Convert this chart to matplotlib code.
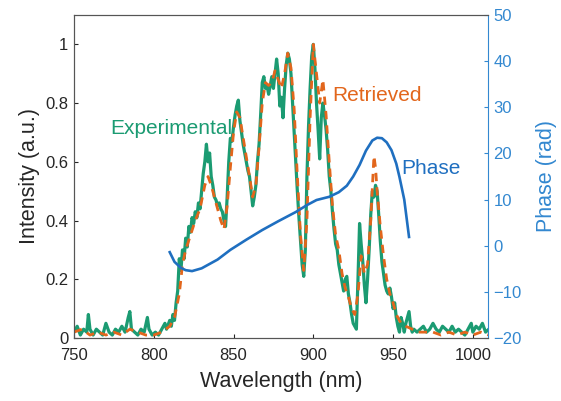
import matplotlib
matplotlib.use("Agg")
import matplotlib.pyplot as plt

plt.rcParams['font.family'] = ['Liberation Sans', 'DejaVu Sans']

# measured spectrum
exp_wl = [750, 752, 754, 756, 758, 759, 760, 762, 764, 766, 768, 770, 772, 774, 776, 778, 780,
          782, 784, 785, 786, 788, 790, 792, 794, 796, 797, 799, 801, 803, 805, 807, 808, 810,
          811, 812, 813, 814, 815, 816, 817, 818, 819, 820, 821, 822, 823, 824, 825, 826, 827,
          828, 829, 830, 831, 832, 833, 834, 835, 836, 837, 838, 839, 840, 841, 842, 843, 844,
          845, 846, 847, 848, 849, 850, 851, 852, 853, 854, 855, 856, 857, 858, 859, 860, 861,
          862, 863, 864, 865, 866, 867, 868, 869, 870, 871, 872, 873, 874, 875, 876, 877, 878,
          879, 880, 881, 882, 883, 884, 885, 886, 887, 888, 889, 890, 891, 892, 893, 894, 895,
          896, 897, 898, 899, 900, 901, 902, 903, 904, 905, 906, 907, 908, 909, 910, 911, 912,
          913, 914, 915, 916, 917, 918, 919, 920, 921, 922, 923, 924, 925, 926, 927, 928, 929,
          930, 931, 932, 933, 934, 935, 936, 937, 938, 939, 940, 941, 942, 943, 944, 945, 946,
          947, 948, 949, 950, 951, 952, 953, 954, 955, 956, 957, 958, 959, 960, 961, 962, 963,
          965, 967, 969, 971, 973, 975, 977, 979, 981, 983, 985, 987, 989, 991, 993, 995, 997,
          999, 1000, 1002, 1004, 1006, 1008, 1010]
exp_int = [0.02, 0.04, 0.01, 0.03, 0.02, 0.08, 0.03, 0.01, 0.03, 0.02, 0.01, 0.05, 0.02, 0.01,
           0.03, 0.02, 0.04, 0.02, 0.07, 0.09, 0.03, 0.02, 0.01, 0.03, 0.02, 0.07, 0.03, 0.01,
           0.02, 0.01, 0.03, 0.05, 0.03, 0.06, 0.04, 0.08, 0.06, 0.12, 0.16, 0.27, 0.23, 0.30,
           0.27, 0.34, 0.31, 0.38, 0.36, 0.41, 0.39, 0.43, 0.41, 0.46, 0.44, 0.50, 0.56, 0.60,
           0.66, 0.60, 0.63, 0.55, 0.52, 0.48, 0.47, 0.45, 0.46, 0.44, 0.43, 0.40, 0.38, 0.48,
           0.60, 0.68, 0.67, 0.72, 0.76, 0.79, 0.81, 0.74, 0.70, 0.66, 0.63, 0.60, 0.57, 0.55,
           0.50, 0.45, 0.48, 0.52, 0.60, 0.66, 0.76, 0.87, 0.89, 0.85, 0.86, 0.83, 0.86, 0.89,
           0.85, 0.90, 0.95, 0.90, 0.79, 0.82, 0.75, 0.85, 0.93, 0.97, 0.95, 0.90, 0.80, 0.70,
           0.60, 0.50, 0.41, 0.33, 0.25, 0.21, 0.30, 0.55, 0.72, 0.85, 0.96, 1.00, 0.92, 0.80,
           0.71, 0.61, 0.75, 0.80, 0.76, 0.71, 0.64, 0.55, 0.50, 0.43, 0.37, 0.32, 0.30, 0.25,
           0.22, 0.19, 0.16, 0.20, 0.21, 0.15, 0.12, 0.08, 0.05, 0.04, 0.03, 0.20, 0.39, 0.32,
           0.26, 0.18, 0.12, 0.20, 0.30, 0.42, 0.50, 0.48, 0.52, 0.50, 0.42, 0.33, 0.26, 0.22,
           0.18, 0.16, 0.15, 0.17, 0.14, 0.10, 0.12, 0.07, 0.04, 0.02, 0.07, 0.05, 0.02, 0.05,
           0.07, 0.09, 0.04, 0.02, 0.03, 0.02, 0.03, 0.04, 0.02, 0.03, 0.05, 0.03, 0.02, 0.04,
           0.03, 0.02, 0.04, 0.02, 0.03, 0.02, 0.01, 0.03, 0.05, 0.02, 0.04, 0.03, 0.05, 0.02,
           0.03]

# retrieved spectrum
ret_wl = [750, 755, 760, 765, 770, 775, 780, 785, 790, 795, 800, 805, 810, 813, 816, 818, 820,
          823, 826, 829, 832, 834, 836, 839, 842, 844, 846, 848, 850, 852, 854, 857, 860, 862,
          864, 866, 868, 870, 872, 874, 876, 878, 880, 882, 884, 886, 888, 890, 892, 894, 896,
          898, 900, 902, 904, 905, 906, 908, 910, 912, 914, 916, 918, 920, 922, 924, 926, 928,
          930, 932, 934, 936, 938, 939, 940, 942, 944, 946, 948, 950, 952, 955, 958, 962, 966,
          970, 975, 980, 985, 990, 995, 1000, 1005, 1010]
ret_int = [0.02, 0.03, 0.01, 0.02, 0.01, 0.02, 0.01, 0.03, 0.02, 0.01, 0.01, 0.02, 0.04, 0.07,
           0.15, 0.25, 0.30, 0.35, 0.40, 0.44, 0.52, 0.55, 0.52, 0.46, 0.40, 0.37, 0.45, 0.58,
           0.70, 0.77, 0.75, 0.65, 0.55, 0.48, 0.52, 0.65, 0.80, 0.87, 0.86, 0.87, 0.91, 0.88,
           0.85, 0.90, 0.97, 0.92, 0.78, 0.55, 0.35, 0.23, 0.40, 0.75, 1.00, 0.90, 0.80, 0.84,
           0.88, 0.76, 0.60, 0.45, 0.35, 0.30, 0.22, 0.17, 0.14, 0.10, 0.08, 0.15, 0.28, 0.22,
           0.25, 0.40, 0.62, 0.58, 0.50, 0.38, 0.28, 0.20, 0.15, 0.12, 0.08, 0.05, 0.04, 0.03,
           0.02, 0.02, 0.02, 0.01, 0.02, 0.01, 0.02, 0.01, 0.02, 0.01]

# spectral phase
ph_wl = [810, 813, 817, 820, 824, 830, 840, 848, 858, 868, 878, 889, 896, 902, 910, 916, 921,
         925, 929, 933, 937, 940, 943, 946, 949, 952, 954, 957, 960]
ph_rad = [-1.4, -3.5, -4.8, -5.3, -5.5, -4.9, -3.0, -0.9, 1.3, 3.4, 5.3, 7.3, 8.8, 9.9, 10.6,
          11.6, 13.0, 15.0, 17.5, 20.6, 22.8, 23.4, 23.3, 22.4, 20.7, 17.8, 14.9, 10.0, 1.9]

green = '#1b9b72'
orange = '#e2661c'
blue = '#1f6fc0'
axblue = '#3388d0'
dark = '#262626'

fig = plt.figure(figsize=(5.61, 4.01), dpi=100)
ax = fig.add_axes([74/561, 63/401, 414/561, 323/401])
ax2 = ax.twinx()

ax.plot(exp_wl, exp_int, color=green, lw=2.3, zorder=2)
ax.plot(ret_wl, ret_int, color=orange, lw=2.0, ls=(0, (3, 2.2)), zorder=3)
ax2.plot(ph_wl, ph_rad, color=blue, lw=1.9)

ax.set_xlim(750, 1009.5)
ax.set_ylim(0, 1.1)
ax2.set_ylim(-20, 50)
ax.set_xticks([750, 800, 850, 900, 950, 1000])
ax.set_yticks([0, 0.2, 0.4, 0.6, 0.8, 1])
ax.set_yticklabels(['0', '0.2', '0.4', '0.6', '0.8', '1'])
ax2.set_yticks([-20, -10, 0, 10, 20, 30, 40, 50])

ax.tick_params(direction='in', length=3, width=0.8, labelsize=12, colors=dark, pad=4)
ax.tick_params(axis='x', pad=7)
ax2.tick_params(direction='in', length=3, width=0.8, labelsize=12, colors=axblue, pad=4)

for s in ['left', 'bottom', 'top']:
    ax.spines[s].set_color('#555555')
    ax2.spines[s].set_color('#555555')
ax2.spines['right'].set_color(axblue)
ax.spines['right'].set_visible(False)

ax.set_xlabel('Wavelength (nm)', fontsize=15.5, color=dark, labelpad=6)
ax.set_ylabel('Intensity (a.u.)', fontsize=15.5, color=dark, labelpad=4)
ax2.set_ylabel('Phase (rad)', fontsize=15.5, color=axblue, labelpad=10)

ax.text(773, 0.714, 'Experimental', color=green, fontsize=15, ha='left', va='center')
ax.text(912, 0.827, 'Retrieved', color=orange, fontsize=15, ha='left', va='center')
ax.text(955, 0.578, 'Phase', color=blue, fontsize=15, ha='left', va='center')

fig.savefig('out.png', dpi=100)
